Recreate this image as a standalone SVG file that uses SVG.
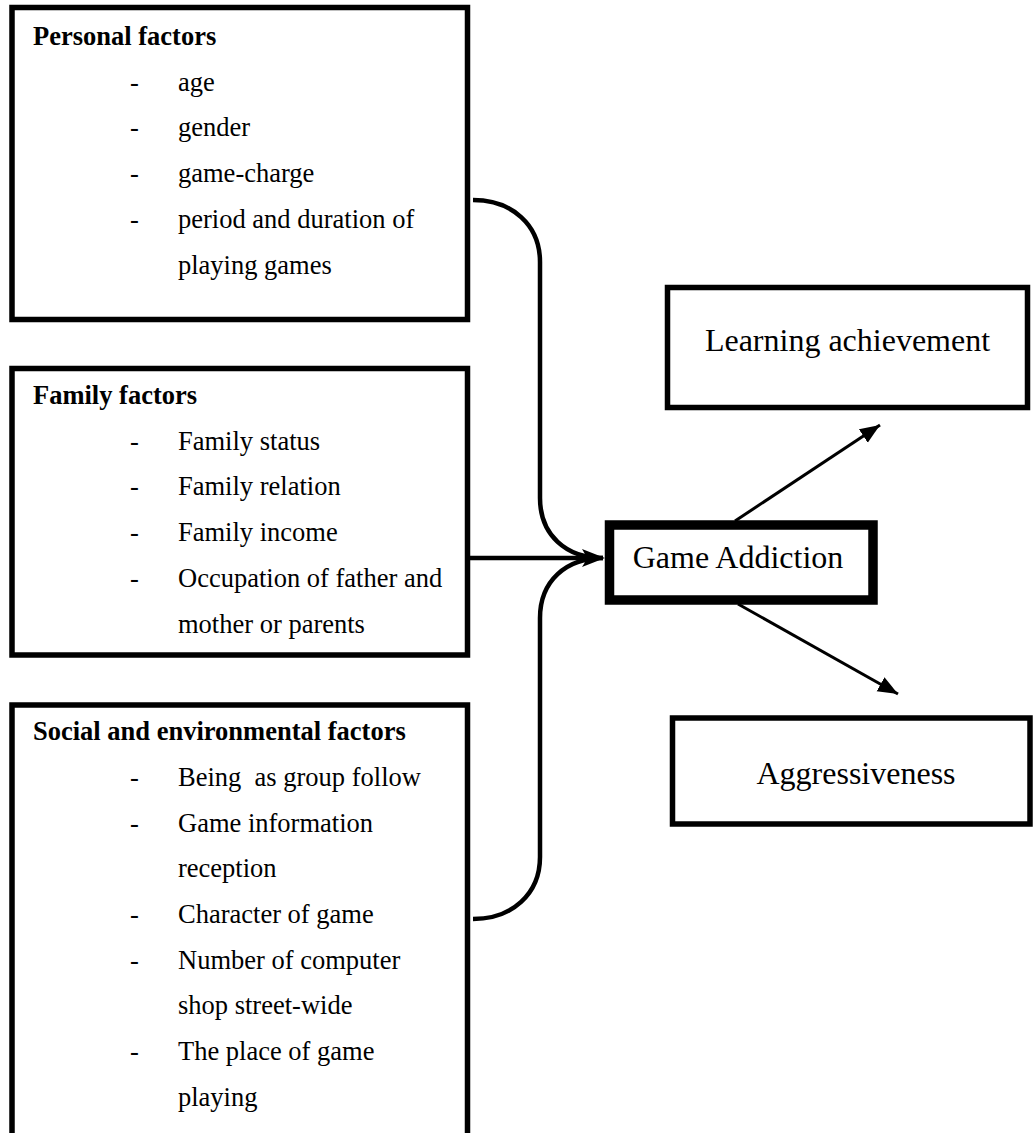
<svg xmlns="http://www.w3.org/2000/svg" width="1035" height="1133" viewBox="0 0 1035 1133">
<style>
.box{fill:#fff;stroke:#000;stroke-width:5.5}
.t{font-family:"Liberation Serif","Times New Roman",serif;font-size:26.5px;fill:#000}
.h{font-weight:bold}
.big{font-family:"Liberation Serif","Times New Roman",serif;font-size:32px;fill:#000;text-anchor:middle}
.conn{fill:none;stroke:#000;stroke-width:4.5}
.arr{fill:none;stroke:#000;stroke-width:3}
</style>
<defs>
<marker id="ah" markerUnits="userSpaceOnUse" markerWidth="22" markerHeight="18" refX="20" refY="8" orient="auto" viewBox="0 0 22 16">
<path d="M0,0 L20,8 L0,16 Z" fill="#000"/>
</marker>
</defs>
<rect width="1035" height="1133" fill="#fff"/>

<g id="personal">
<rect class="box" x="12" y="7.5" width="455.5" height="312"/>
<text class="t h" x="33" y="45">Personal factors</text>
<text class="t" x="130" y="90.7">-</text><text class="t" x="178" y="90.7">age</text>
<text class="t" x="130" y="136.4">-</text><text class="t" x="178" y="136.4">gender</text>
<text class="t" x="130" y="182">-</text><text class="t" x="178" y="182">game-charge</text>
<text class="t" x="130" y="227.8">-</text><text class="t" x="178" y="227.8">period and duration of</text>
<text class="t" x="178" y="273.5">playing games</text>
</g>

<g id="family">
<rect class="box" x="12" y="368.5" width="455.5" height="286.5"/>
<text class="t h" x="33" y="404">Family factors</text>
<text class="t" x="130" y="449.7">-</text><text class="t" x="178" y="449.7">Family status</text>
<text class="t" x="130" y="495.4">-</text><text class="t" x="178" y="495.4">Family relation</text>
<text class="t" x="130" y="541">-</text><text class="t" x="178" y="541">Family income</text>
<text class="t" x="130" y="586.8">-</text><text class="t" x="178" y="586.8">Occupation of father and</text>
<text class="t" x="178" y="632.5">mother or parents</text>
</g>

<g id="social">
<rect class="box" x="12" y="705" width="455.5" height="440"/>
<text class="t h" x="33" y="740">Social and environmental factors</text>
<text class="t" x="130" y="786">-</text><text class="t" x="178" y="786" xml:space="preserve">Being  as group follow</text>
<text class="t" x="130" y="831.5">-</text><text class="t" x="178" y="831.5">Game information</text>
<text class="t" x="178" y="877">reception</text>
<text class="t" x="130" y="923">-</text><text class="t" x="178" y="923">Character of game</text>
<text class="t" x="130" y="968.5">-</text><text class="t" x="178" y="968.5">Number of computer</text>
<text class="t" x="178" y="1014">shop street-wide</text>
<text class="t" x="130" y="1060">-</text><text class="t" x="178" y="1060">The place of game</text>
<text class="t" x="178" y="1105.5">playing</text>
</g>

<g id="game-addiction">
<rect x="609.5" y="525" width="263.5" height="75" fill="#fff" stroke="#000" stroke-width="9.5"/>
<text class="big" x="738" y="568">Game Addiction</text>
</g>

<g id="learning">
<rect class="box" x="667.5" y="287.5" width="360" height="120"/>
<text class="big" x="847.5" y="351">Learning achievement</text>
</g>

<g id="aggressiveness">
<rect class="box" x="672.5" y="718" width="357.5" height="106"/>
<text class="big" x="856" y="784">Aggressiveness</text>
</g>

<g id="connectors">
<path class="conn" d="M473,200 C512,200 540,225 540,262 L540,498 C540,535 566,558 603,558"/>
<path class="conn" d="M473,919 C512,919 540,894 540,857 L540,618 C540,581 566,558 603,558"/>
<line class="conn" x1="470" y1="558" x2="590" y2="558"/>
<path d="M605,558 L582,549 Q589,558 582,567 Z" fill="#000"/>
<line class="arr" x1="735" y1="521" x2="880" y2="425" marker-end="url(#ah)"/>
<line class="arr" x1="738" y1="604" x2="898" y2="694" marker-end="url(#ah)"/>
</g>
</svg>
